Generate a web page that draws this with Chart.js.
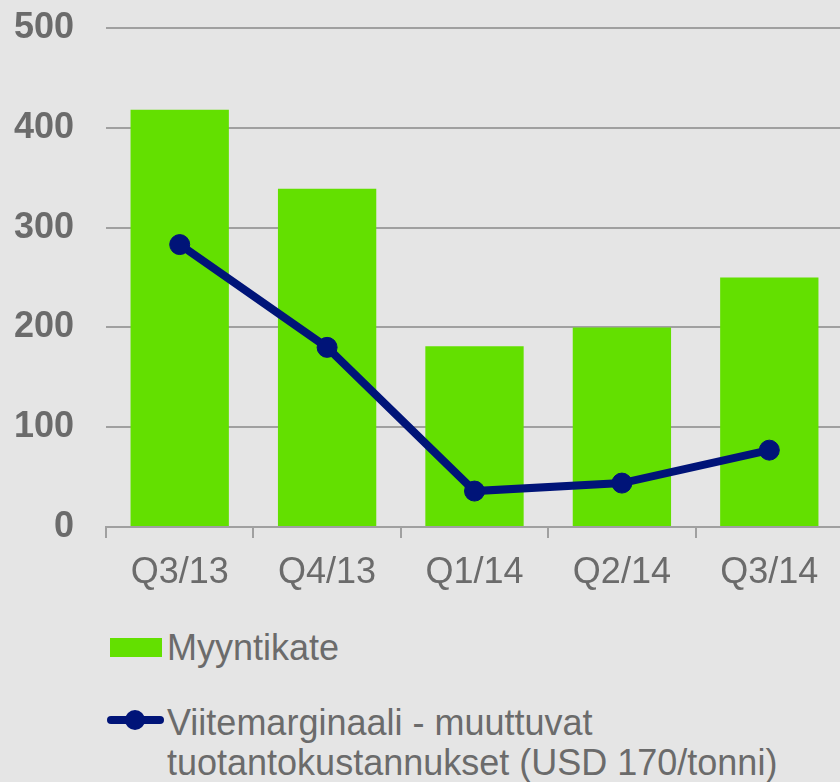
<!DOCTYPE html>
<html>
<head>
<meta charset="utf-8">
<script src="https://cdn.jsdelivr.net/npm/chart.js@4/dist/chart.umd.min.js"></script>
<style>
    html, body { margin: 0; padding: 0; background: #e5e5e5; }
    #wrap { position: relative; width: 840px; height: 782px; overflow: hidden; background: #e5e5e5; }
    #chart { position: absolute; left: 0; top: 0; }
    .legend { position: absolute; left: 0; color: #6b6b6b; font-family: 'Liberation Sans', Arial, sans-serif; font-size: 36px; line-height: 40px; }
    .swatch { position: absolute; left: 110px; width: 52px; height: 19px; background: #63e000; }
    .lineMark { position: absolute; left: 107px; width: 57px; height: 8px; border-radius: 4px; background: #001478; }
    .dot { position: absolute; left: 125px; width: 20px; height: 20px; border-radius: 50%; background: #001478; }
    .txt { position: absolute; left: 167px; white-space: nowrap; }
</style>
</head>
<body>
<div id="wrap">
    <canvas id="chart" width="854" height="600"></canvas>
    <div class="swatch" style="top:638px"></div>
    <div class="legend txt" style="top:628px">Myyntikate</div>
    <div class="lineMark" style="top:716px"></div>
    <div class="dot" style="top:710px"></div>
    <div class="legend txt" style="top:703px">Viitemarginaali - muuttuvat<br>tuotantokustannukset (USD 170/tonni)</div>
</div>
<script>
const quarters = ['Q3/13', 'Q4/13', 'Q1/14', 'Q2/14', 'Q3/14'];
const myyntikate = [418, 339, 181, 200, 250];
const viitemarginaali = [283, 180, 36, 44, 77];
const yTicks = [0, 100, 200, 300, 400, 500];

const textGray = '#6b6b6b';
const gridGray = '#a0a0a0';
const fontFamily = "'Liberation Sans', Arial, sans-serif";

const ctx = document.getElementById('chart').getContext('2d');
new Chart(ctx, {
    type: 'bar',
    data: {
        labels: quarters,
        datasets: [
            {
                type: 'line',
                label: 'Viitemarginaali - muuttuvat tuotantokustannukset (USD 170/tonni)',
                data: viitemarginaali,
                borderColor: '#001478',
                backgroundColor: '#001478',
                borderWidth: 8,
                pointRadius: 10,
                pointBorderWidth: 1,
                pointBackgroundColor: '#001478',
                pointBorderColor: '#001478',
                tension: 0,
                order: 1
            },
            {
                label: 'Myyntikate',
                data: myyntikate,
                backgroundColor: '#63e000',
                categoryPercentage: 1,
                barPercentage: 0.667,
                order: 2
            }
        ]
    },
    options: {
        responsive: false,
        animation: false,
        layout: { padding: { top: 28, left: 0, right: 0, bottom: 0 } },
        plugins: {
            legend: { display: false },
            tooltip: { enabled: false }
        },
        scales: {
            x: {
                afterFit: s => { s.height = 73; },
                grid: {
                    offset: true,
                    drawOnChartArea: false,
                    drawTicks: true,
                    tickLength: 11,
                    color: gridGray,
                    lineWidth: 2
                },
                border: { display: true, color: gridGray, width: 2 },
                ticks: {
                    color: textGray,
                    padding: 13,
                    maxRotation: 0,
                    font: { family: fontFamily, size: 36 }
                }
            },
            y: {
                min: 0,
                max: 500,
                afterFit: s => { s.width = 106; s.paddingTop = 0; s.paddingBottom = 0; },
                afterBuildTicks: s => { s.ticks = yTicks.map(v => ({ value: v })); },
                grid: {
                    drawTicks: false,
                    color: gridGray,
                    lineWidth: 2
                },
                border: { display: false },
                ticks: {
                    color: textGray,
                    padding: 32,
                    font: { family: fontFamily, size: 36, weight: 'bold' }
                }
            }
        }
    }
});
</script>
</body>
</html>
